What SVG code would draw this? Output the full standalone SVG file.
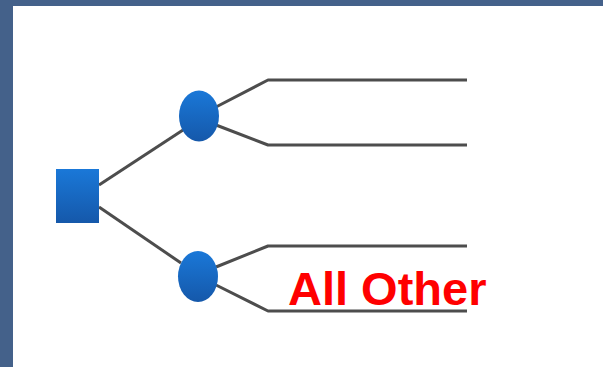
<svg xmlns="http://www.w3.org/2000/svg" width="603" height="367" viewBox="0 0 603 367">
  <defs>
    <linearGradient id="blue" x1="0" y1="0" x2="0" y2="1">
      <stop offset="0" stop-color="#1a78d8"/>
      <stop offset="1" stop-color="#1558aa"/>
    </linearGradient>
    <style>
      .node { fill: url(#blue); }
      .conn { fill: none; stroke: #4d4d4d; stroke-width: 3; stroke-linejoin: round; }
      .label { font-family: "Liberation Sans", Arial, sans-serif; font-weight: bold; font-size: 47px; fill: #ff0000; }
    </style>
  </defs>
  <rect x="0" y="0" width="603" height="367" fill="#44618a"/>
  <rect x="13" y="6" width="590" height="361" fill="#ffffff"/>
  <g id="connectors">
    <path class="conn" d="M99,185 L183,130"/>
    <path class="conn" d="M99,207 L181,263"/>
    <path class="conn" d="M216,107 L268,80 L467,80"/>
    <path class="conn" d="M216,125 L268,145 L467,145"/>
    <path class="conn" d="M216,267 L268,246 L467,246"/>
    <path class="conn" d="M216,285 L268,311 L467,311"/>
  </g>
  <g id="decision">
    <rect class="node" x="56" y="169" width="43" height="54"/>
  </g>
  <g id="chance-top">
    <ellipse class="node" cx="199" cy="116" rx="20" ry="25.5"/>
  </g>
  <g id="chance-bottom">
    <ellipse class="node" cx="198" cy="276.5" rx="20" ry="25.5"/>
  </g>
  <g id="label">
    <text class="label" x="288" y="305">All Other</text>
  </g>
</svg>
